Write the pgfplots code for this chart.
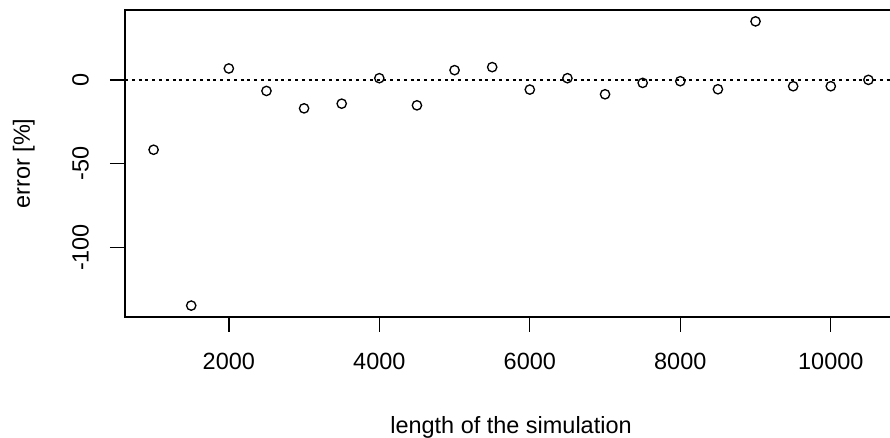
\documentclass[border=0pt]{standalone}
\usepackage{fontspec}
\setmainfont{Liberation Sans}
\usepackage{pgfplots}
\pgfplotsset{compat=1.18}
\begin{document}
\begin{tikzpicture}[x=1pt,y=1pt]
\useasboundingbox (0,0) rectangle (667.5,328.5);
\clip (0,0) rectangle (667.5,328.5);
\begin{axis}[
  at={(93.75pt,90.75pt)}, anchor=south west,
  scale only axis, width=579pt, height=230.25pt,
  xmin=620, xmax=10880, ymin=-141.5, ymax=41.7,
  axis line style={line width=1pt, black},
  tick style={line width=1pt, black},
  tick align=outside, major tick length=11.25pt,
  xtick pos=bottom, ytick pos=left,
  scaled x ticks=false, scaled y ticks=false,
  xtick={2000,4000,6000,8000,10000},
  xticklabels={2000,4000,6000,8000,10000},
  ytick={-100,-50,0},
  yticklabels={-100,-50,0},
  font=\fontsize{17.6}{20}\selectfont,
  xticklabel style={anchor=base, yshift=-28.5pt},
  yticklabel style={anchor=base, xshift=-16pt, rotate=90},
  every axis x label/.style={at={(axis description cs:0.5,-0.3779)}, anchor=base},
  every axis y label/.style={at={(axis description cs:-0.1231,0.5)}, rotate=90, anchor=base},
  xlabel={length of the simulation},
  ylabel={error [\%]},
  clip=false,
]
\addplot[black, line width=1pt, dash pattern=on 2.2pt off 2.9pt, forget plot] coordinates {(620,0) (10880,0)};
\addplot[only marks, mark=o, mark size=3.5pt, mark options={line width=1pt, black}] coordinates {
(1000,-41.7) (1500,-134.7) (2000,6.8) (2500,-6.6) (3000,-17) (3500,-14.2)
(4000,1) (4500,-15.2) (5000,5.8) (5500,7.6) (6000,-5.8) (6500,1)
(7000,-8.6) (7500,-1.8) (8000,-0.8) (8500,-5.6) (9000,34.9) (9500,-3.8)
(10000,-3.8) (10500,0)
};
\end{axis}
\end{tikzpicture}
\end{document}
